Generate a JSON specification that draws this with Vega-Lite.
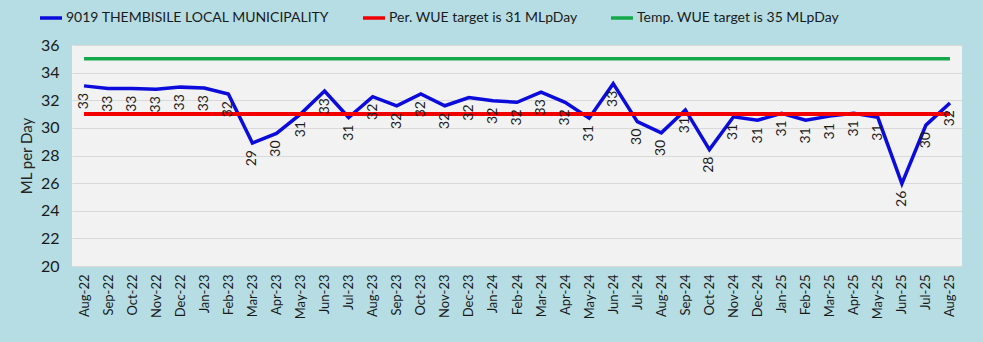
{
  "$schema": "https://vega.github.io/schema/vega-lite/v6.json",
  "width": 890,
  "height": 221,
  "autosize": {"type": "none"},
  "padding": {"left": 72, "top": 45, "right": 21, "bottom": 76},
  "background": "#b6dde4",
  "config": {
    "font": "Lato",
    "view": {"fill": "#f2f2f2", "stroke": null},
    "axis": {"labelColor": "#1a1a1a", "titleColor": "#262626"}
  },
  "datasets": {
    "usage": [
      {"month": "Aug-22", "value": 33.04},
      {"month": "Sep-22", "value": 32.85},
      {"month": "Oct-22", "value": 32.85},
      {"month": "Nov-22", "value": 32.8},
      {"month": "Dec-22", "value": 32.95},
      {"month": "Jan-23", "value": 32.88},
      {"month": "Feb-23", "value": 32.45},
      {"month": "Mar-23", "value": 28.9},
      {"month": "Apr-23", "value": 29.6},
      {"month": "May-23", "value": 31.0},
      {"month": "Jun-23", "value": 32.67},
      {"month": "Jul-23", "value": 30.75},
      {"month": "Aug-23", "value": 32.26},
      {"month": "Sep-23", "value": 31.6},
      {"month": "Oct-23", "value": 32.45},
      {"month": "Nov-23", "value": 31.6},
      {"month": "Dec-23", "value": 32.2},
      {"month": "Jan-24", "value": 31.97},
      {"month": "Feb-24", "value": 31.85},
      {"month": "Mar-24", "value": 32.58},
      {"month": "Apr-24", "value": 31.85},
      {"month": "May-24", "value": 30.7},
      {"month": "Jun-24", "value": 33.2},
      {"month": "Jul-24", "value": 30.45},
      {"month": "Aug-24", "value": 29.64},
      {"month": "Sep-24", "value": 31.3},
      {"month": "Oct-24", "value": 28.43},
      {"month": "Nov-24", "value": 30.8},
      {"month": "Dec-24", "value": 30.55},
      {"month": "Jan-25", "value": 31.05},
      {"month": "Feb-25", "value": 30.55},
      {"month": "Mar-25", "value": 30.85},
      {"month": "Apr-25", "value": 31.05},
      {"month": "May-25", "value": 30.76},
      {"month": "Jun-25", "value": 25.96},
      {"month": "Jul-25", "value": 30.2},
      {"month": "Aug-25", "value": 31.8}
    ],
    "perm": [
      {"month": "Aug-22", "value": 31},
      {"month": "Aug-25", "value": 31}
    ],
    "temp": [
      {"month": "Aug-22", "value": 35},
      {"month": "Aug-25", "value": 35}
    ]
  },
  "encoding": {
    "x": {
      "field": "month",
      "type": "ordinal",
      "sort": null,
      "scale": {"paddingInner": 0, "paddingOuter": 0},
      "axis": {
        "title": null,
        "labelAngle": -90,
        "labelFontSize": 13,
        "labelPadding": 8,
        "ticks": false,
        "tickSize": 0,
        "domain": false,
        "grid": false
      }
    },
    "y": {
      "field": "value",
      "type": "quantitative",
      "scale": {"domain": [20, 36], "nice": false, "zero": false},
      "axis": {
        "title": "ML per Day",
        "titleFontSize": 15,
        "titleFontWeight": "normal",
        "titlePadding": 6,
        "values": [20, 22, 24, 26, 28, 30, 32, 34, 36],
        "labelFontSize": 16,
        "labelPadding": 13,
        "ticks": false,
        "tickSize": 0,
        "domain": false,
        "gridColor": "#d9d9d9",
        "gridWidth": 1
      }
    }
  },
  "layer": [
    {
      "data": {"name": "usage"},
      "transform": [{"calculate": "'9019 THEMBISILE LOCAL MUNICIPALITY'", "as": "series"}],
      "mark": {"type": "line", "strokeWidth": 3.5},
      "encoding": {
        "color": {"field": "series", "type": "nominal"}
      }
    },
    {
      "data": {"name": "perm"},
      "transform": [{"calculate": "'Per. WUE target is 31 MLpDay'", "as": "series"}],
      "mark": {"type": "line", "strokeWidth": 4},
      "encoding": {
        "color": {"field": "series", "type": "nominal"}
      }
    },
    {
      "data": {"name": "temp"},
      "transform": [{"calculate": "'Temp. WUE target is 35 MLpDay'", "as": "series"}],
      "mark": {"type": "line", "strokeWidth": 3.5},
      "encoding": {
        "color": {
          "field": "series",
          "type": "nominal",
          "scale": {
            "domain": ["9019 THEMBISILE LOCAL MUNICIPALITY", "Per. WUE target is 31 MLpDay", "Temp. WUE target is 35 MLpDay"],
            "range": ["#0b0bdc", "#f20000", "#14a84b"]
          },
          "legend": {
            "title": null,
            "orient": "none",
            "legendX": -34,
            "legendY": -40,
            "direction": "horizontal",
            "symbolType": "stroke",
            "symbolSize": 484,
            "symbolStrokeWidth": 3.5,
            "labelFontSize": 14,
            "labelColor": "#1a1a1a",
            "labelLimit": 400,
            "labelOffset": 2,
            "columnPadding": 26
          }
        }
      }
    },
    {
      "data": {"name": "usage"},
      "mark": {"type": "text", "angle": 270, "align": "right", "baseline": "middle", "dx": -7, "fontSize": 14, "color": "#1a1a1a"},
      "encoding": {
        "text": {"field": "value", "type": "quantitative", "format": ".0f"}
      }
    }
  ]
}
